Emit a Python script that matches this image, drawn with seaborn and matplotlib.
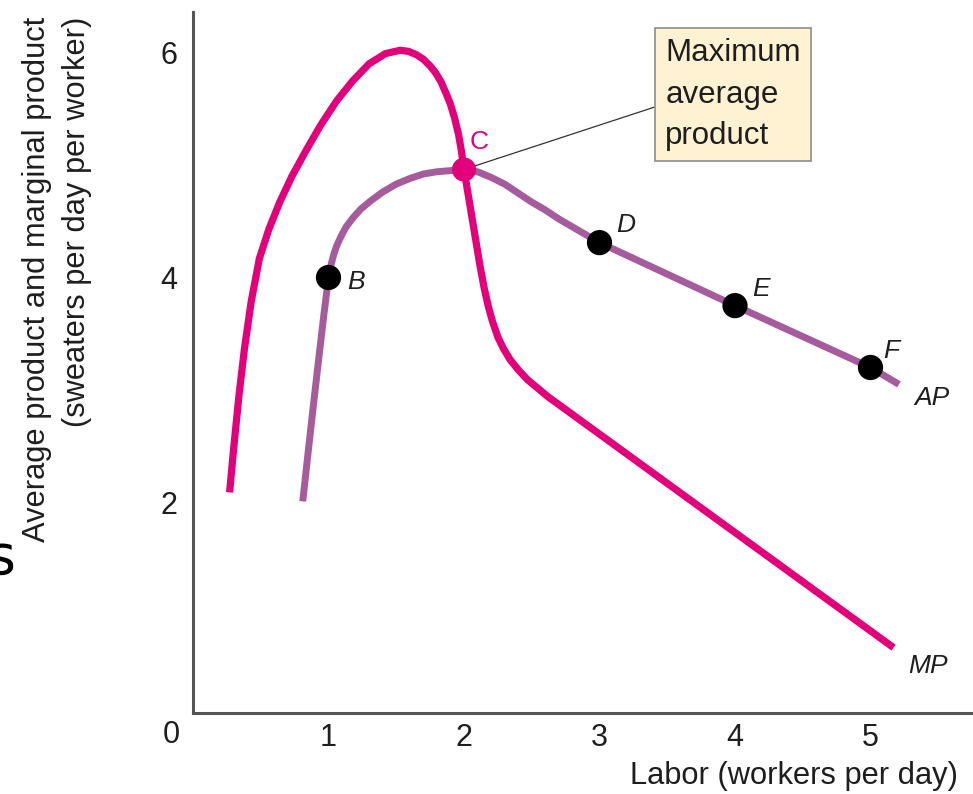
import matplotlib
matplotlib.use("Agg")
import matplotlib.pyplot as plt
import seaborn as sns
import pandas as pd

# Marginal product curve, traced along labor (workers per day)
mp_labor = [0.27, 0.30, 0.34, 0.38, 0.43, 0.49, 0.56, 0.64, 0.73, 0.83, 0.94,
            1.06, 1.18, 1.30, 1.42, 1.53, 1.59, 1.65, 1.70, 1.75, 1.79, 1.83,
            1.87, 1.90, 1.93, 1.96, 1.98, 2.00, 2.04, 2.08, 2.12, 2.15, 2.18,
            2.21, 2.25, 2.29, 2.34, 2.40, 2.47, 2.54, 2.62, 5.17]
mp_output = [2.09, 2.48, 2.96, 3.37, 3.79, 4.17, 4.43, 4.67, 4.90, 5.12, 5.35,
             5.57, 5.75, 5.90, 5.99, 6.02, 6.01, 5.98, 5.94, 5.88, 5.82, 5.74,
             5.63, 5.54, 5.42, 5.27, 5.13, 4.96, 4.67, 4.38, 4.09, 3.90, 3.74,
             3.61, 3.47, 3.37, 3.27, 3.18, 3.09, 3.02, 2.94, 0.71]

# Average product curve
ap_labor = [0.81, 0.85, 0.89, 0.93, 0.965, 1.00, 1.02, 1.04, 1.06, 1.09, 1.13,
            1.18, 1.24, 1.31, 1.40, 1.50, 1.60, 1.70, 1.80, 1.90, 2.00, 2.10,
            2.20, 2.30, 2.40, 2.50, 2.60, 2.70, 2.80, 2.90, 3.00, 4.00, 5.00,
            5.21]
ap_output = [2.01, 2.45, 2.88, 3.30, 3.66, 4.00, 4.12, 4.21, 4.28, 4.36, 4.45,
             4.53, 4.61, 4.68, 4.76, 4.83, 4.88, 4.92, 4.94, 4.95, 4.96, 4.94,
             4.89, 4.83, 4.75, 4.67, 4.60, 4.52, 4.45, 4.38, 4.31, 3.75, 3.20,
             3.05]

# Labelled points on the average product curve
point_names = ["B", "C", "D", "E", "F"]
point_labor = [1, 2, 3, 4, 5]
point_ap = [4.00, 4.96, 4.31, 3.75, 3.20]

x_ticks = [1, 2, 3, 4, 5]
y_ticks = [2, 4, 6]

MP_COLOR = "#e3007b"
AP_COLOR = "#a65b9d"
AXIS_COLOR = "#555555"
TEXT_COLOR = "#1e1e1e"

sns.set_theme(style="white")
plt.rcParams["font.family"] = ["Liberation Sans", "DejaVu Sans"]
plt.rcParams["text.color"] = TEXT_COLOR

W, H = 973, 794
fig = plt.figure(figsize=(W / 100, H / 100), dpi=100)
ax = fig.add_axes([193 / W, 81 / H, 1 - 193 / W, (713 - 12) / H])

mp_df = pd.DataFrame({"labor": mp_labor, "output": mp_output})
ap_df = pd.DataFrame({"labor": ap_labor, "output": ap_output})

sns.lineplot(data=mp_df, x="labor", y="output", sort=False, estimator=None,
             color=MP_COLOR, lw=5.2, solid_capstyle="butt",
             solid_joinstyle="round", ax=ax, zorder=3)
sns.lineplot(data=ap_df, x="labor", y="output", sort=False, estimator=None,
             color=AP_COLOR, lw=5.0, solid_capstyle="butt",
             solid_joinstyle="round", ax=ax, zorder=2)

pts = pd.DataFrame({"name": point_names, "labor": point_labor, "ap": point_ap})
others = pts[pts["name"] != "C"]
peak = pts[pts["name"] == "C"]
sns.scatterplot(data=others, x="labor", y="ap", color="black", s=330,
                edgecolor="none", ax=ax, zorder=6)
sns.scatterplot(data=peak, x="labor", y="ap", color=MP_COLOR, s=300,
                edgecolor="none", ax=ax, zorder=6)

# Point letters
offsets = {"B": (20, -3), "D": (19, 13), "E": (19, 12), "F": (15, 12)}
for name, lx, ly in zip(point_names, point_labor, point_ap):
    if name == "C":
        ax.annotate(name, (lx, ly), xytext=(11, 20), textcoords="offset points",
                    ha="center", va="center", fontsize=19, color=MP_COLOR, zorder=7)
    else:
        ax.annotate(name, (lx, ly), xytext=offsets[name], textcoords="offset points",
                    ha="center", va="center", fontsize=19, style="italic", zorder=7)

# Curve names at the right-hand ends
ax.annotate("AP", (ap_labor[-1], ap_output[-1]), xytext=(24, -10),
            textcoords="offset points", ha="center", va="center",
            fontsize=19, style="italic")
ax.annotate("MP", (mp_labor[-1], mp_output[-1]), xytext=(25, -13),
            textcoords="offset points", ha="center", va="center",
            fontsize=19, style="italic")

# Callout for the maximum of the average product
ax.annotate("Maximum\naverage\nproduct", (point_labor[1], point_ap[1]),
            xytext=(145, 54), textcoords="offset points", ha="left", va="center",
            fontsize=22.5, linespacing=1.5,
            bbox=dict(boxstyle="square,pad=0.32", fc="#fff2d3", ec="#8c8c8c", lw=1.2),
            arrowprops=dict(arrowstyle="-", color="#333333", lw=0.9,
                            relpos=(0, 0.42), shrinkA=0, shrinkB=0),
            zorder=4)

ax.set_xlim(0, (W - 193) / 135.5)
ax.set_ylim((727.5 - 713) / 112.5, (727.5 - 12) / 112.5)
ax.set_xticks(x_ticks)
ax.set_yticks(y_ticks)
ax.tick_params(direction="in", length=12, width=1.5, color=AXIS_COLOR,
               labelsize=22, labelcolor=TEXT_COLOR)
ax.tick_params(axis="x", pad=7)
ax.tick_params(axis="y", pad=11)
for side in ("top", "right"):
    ax.spines[side].set_visible(False)
for side in ("left", "bottom"):
    ax.spines[side].set_color(AXIS_COLOR)
    ax.spines[side].set_linewidth(2.2)
ax.set_xlabel("")
ax.set_ylabel("")

# Origin label shared by both axes
fig.text(171 / W, 1 - 735 / H, "0", ha="center", va="center", fontsize=22)

# Axis titles
fig.text(958 / W, 1 - 784 / H, "Labor (workers per day)", ha="right",
         va="baseline", fontsize=22.2)
fig.text(37 / W, 1 - 17 / H, "Average product and marginal product",
         rotation=90, ha="center", va="top", fontsize=22.2)
fig.text(77 / W, 1 - 17 / H, "(sweaters per day per worker)",
         rotation=90, ha="center", va="top", fontsize=22.2)

# Stray character at the left edge
fig.text(-13 / W, 1 - 574 / H, "s", ha="left", va="baseline", fontsize=40,
         color="black", family="DejaVu Sans")

fig.savefig("out.png", dpi=100)
